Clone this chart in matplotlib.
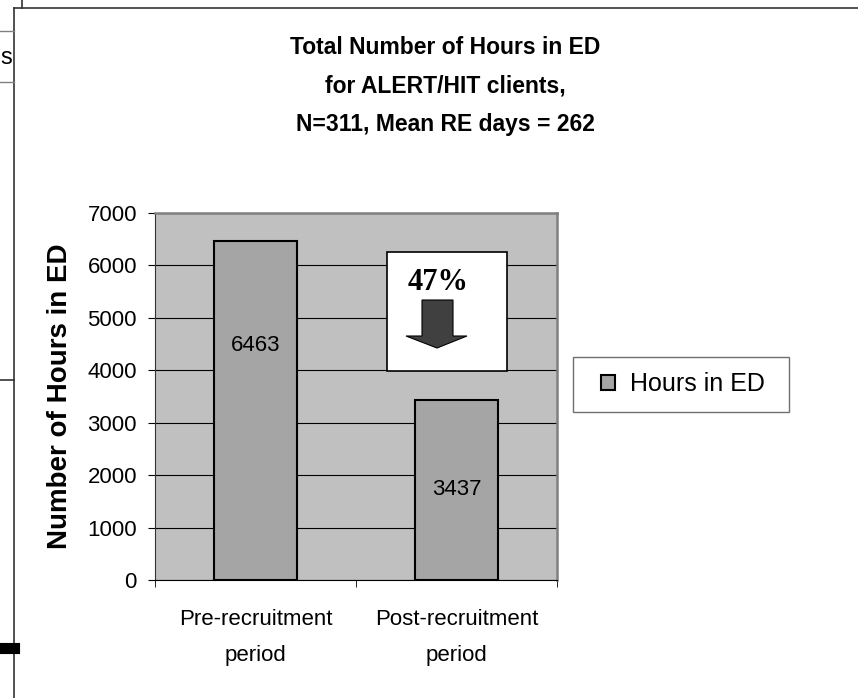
import matplotlib.pyplot as plt
from matplotlib.patches import Rectangle, Polygon
from matplotlib.lines import Line2D

plt.rcParams['font.family'] = ['Liberation Sans', 'DejaVu Sans']

periods = ["Pre-recruitment\nperiod", "Post-recruitment\nperiod"]
hours = [6463, 3437]
label_pos = [4480, 3437 / 2]
title_lines = ["Total Number of Hours in ED", "for ALERT/HIT clients,",
               "N=311, Mean RE days = 262"]
drop_text = "47%"

W, H = 858, 698


def px(x, y):
    # pixel position -> figure fraction
    return (x / W, 1 - y / H)


fig = plt.figure(figsize=(W / 100, H / 100), dpi=100)
ax = fig.add_axes([155 / W, 1 - 580 / H, 402 / W, 367 / H])
ax.set_facecolor('#c0c0c0')

x = list(range(len(hours)))
bars = ax.bar(x, hours, width=0.41, color='#a5a5a5', edgecolor='black',
              linewidth=1.5, label="Hours in ED", zorder=3)
for i, v in enumerate(hours):
    ax.text(i, label_pos[i], str(v), ha='center', va='center', fontsize=16,
            zorder=4)

ax.set_xlim(-0.5, 1.5)
ax.set_ylim(0, 7000)
ax.set_yticks(range(0, 7001, 1000))
ax.yaxis.grid(True, color='black', linewidth=0.8)
ax.set_axisbelow(True)
ax.tick_params(axis='y', labelsize=16, length=5, pad=8, direction='out')
ax.set_xticks(x)
ax.set_xticklabels(periods, fontsize=16, linespacing=1.95)
ax.tick_params(axis='x', which='major', length=0, pad=21)
ax.set_xticks([-0.5, 0.5, 1.5], minor=True)
ax.tick_params(axis='x', which='minor', length=5, direction='out')
for s in ['top', 'right']:
    ax.spines[s].set_color('#808080')
    ax.spines[s].set_linewidth(1.8)
ax.spines['left'].set_color('#333333')
ax.spines['bottom'].set_color('black')

# titles
for i, line in enumerate(title_lines):
    fig.text(*px(445, 47 + 39 * i), line, ha='center', va='center',
             fontsize=16.5, fontweight='bold')
fig.text(*px(60, 396), "Number of Hours in ED", rotation=90, ha='center',
         va='center', fontsize=20, fontweight='bold')

# legend
fig.add_artist(Rectangle(px(573, 412), 216 / W, 55 / H, transform=fig.transFigure,
                         facecolor='white', edgecolor='#707070', linewidth=1))
fig.legend(handles=[bars], labels=["Hours in ED"], loc='center',
           bbox_to_anchor=px(683, 384), frameon=False, fontsize=18,
           handlelength=0.56, handleheight=0.56, handletextpad=0.6)

# 47% callout box with arrow
fig.add_artist(Rectangle(px(387, 371), 120 / W, 119 / H, transform=fig.transFigure,
                         facecolor='white', edgecolor='black', linewidth=1.2,
                         zorder=5))
fig.text(*px(438, 283), drop_text, ha='center', va='center', fontsize=22,
         fontweight='bold', family='Liberation Serif', zorder=6)
arrow = [px(422, 300), px(453, 300), px(453, 336), px(467, 336), px(437, 348),
         px(406, 336), px(422, 336)]
fig.add_artist(Polygon(arrow, closed=True, transform=fig.transFigure,
                       facecolor='#404040', edgecolor='black', linewidth=0.8,
                       zorder=6))

# surrounding frame and pieces of neighbouring objects
fr = dict(transform=fig.transFigure, color='#333333', linewidth=1.2)
fig.add_artist(Line2D([px(14, 8)[0], 1], [px(14, 8)[1]] * 2, **fr))
fig.add_artist(Line2D([px(14, 8)[0]] * 2, [px(14, 8)[1], 0], **fr))
fig.add_artist(Line2D([px(22, 0)[0]] * 2, [1, px(22, 8)[1]], **fr))
gr = dict(transform=fig.transFigure, color='#808080', linewidth=1)
fig.add_artist(Line2D([0, 14 / W], [px(0, 31)[1]] * 2, **gr))
fig.add_artist(Line2D([0, 14 / W], [px(0, 82)[1]] * 2, **gr))
fig.add_artist(Line2D([0, 14 / W], [px(0, 380)[1]] * 2, **fr))
fig.add_artist(Line2D([0, 14 / W], [px(0, 648)[1]] * 2, transform=fig.transFigure,
                      color='black', linewidth=8))
fig.text(*px(0.5, 58), "s", ha='left', va='center', fontsize=17)

plt.savefig("out.png", dpi=100)
